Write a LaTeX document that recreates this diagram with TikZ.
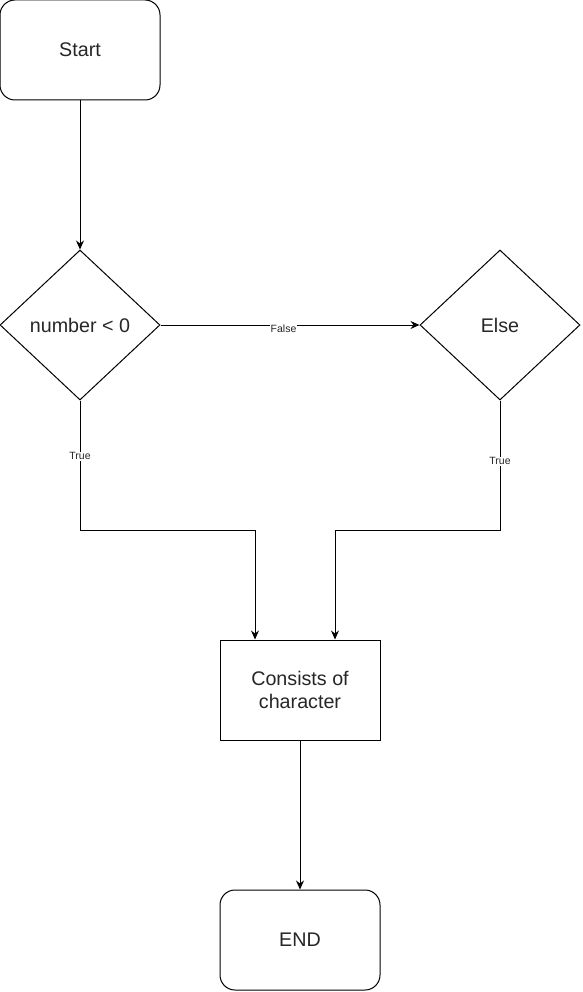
\documentclass[tikz,border=0pt]{standalone}
\usepackage{fontspec}
\setmainfont{Liberation Sans}
\usetikzlibrary{shapes.geometric,arrows.meta}
\begin{document}
\begin{tikzpicture}[x=1pt,y=-1pt,
  every node/.style={font=\fontsize{19.7}{23}\selectfont, text=black!85},
  base/.style={draw=black, line width=1pt, minimum width=160pt, minimum height=100pt, inner sep=0pt, align=center},
  term/.style={base, rounded corners=15pt},
  proc/.style={base},
  dec/.style={draw=black, line width=1pt, diamond, aspect=1.0667, minimum width=160pt, minimum height=150pt, inner sep=0pt},
  conn/.style={draw=black, line width=1pt, -{Stealth[length=9pt,width=8pt]}},
  lbl/.style={font=\fontsize{10.5}{12}\selectfont, fill=white, inner sep=1pt, text=black!85}
]
\useasboundingbox (0,0) rectangle (582,992);
\node[term] (start) at (80,50) {Start};
\node[dec] (d1) at (80,325) {number < 0};
\node[dec] (d2) at (500,325) {Else};
\node[proc] (cons) at (300,690) {Consists of\\character};
\node[term] (fin) at (300,940) {END};
\coordinate (jl) at (255,530);
\coordinate (jr) at (335,530);
\draw[conn] (start) -- (d1);
\draw[conn] (d1.east) -- node[lbl, pos=0.475, yshift=-4pt] {False} (d2.west);
\draw[conn] (d1.south) -- node[lbl, pos=0.43] {True} (d1.south |- jl) -- (jl) -- (jl |- cons.north);
\draw[conn] (d2.south) -- node[lbl, pos=0.47] {True} (d2.south |- jr) -- (jr) -- (jr |- cons.north);
\draw[conn] (cons) -- (fin);
\end{tikzpicture}
\end{document}
